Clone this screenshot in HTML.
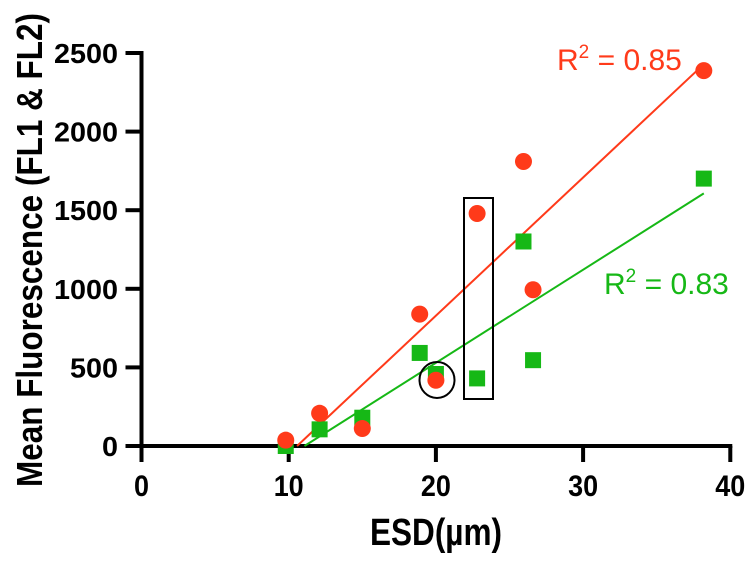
<!DOCTYPE html>
<html><head><meta charset="utf-8"><style>
body{margin:0;background:#fff;}
svg{display:block;font-family:"Liberation Sans",Arial,sans-serif;}
</style></head><body>
<svg id="chart" width="754" height="564" viewBox="0 0 754 564">
<g id="axes"></g>
<g id="fits"></g>
<g id="marks"></g>
<ellipse cx="437" cy="380" rx="17.5" ry="18" fill="none" stroke="#000" stroke-width="2"/>
<rect x="464" y="198" width="29" height="201" fill="none" stroke="#000" stroke-width="2"/>
<text x="557" y="70" font-size="30" fill="#ff3a1a">R<tspan font-size="19" dy="-12">2</tspan><tspan dy="12"> = 0.85</tspan></text>
<text x="604" y="294" font-size="30" fill="#16b816">R<tspan font-size="19" dy="-12">2</tspan><tspan dy="12"> = 0.83</tspan></text>
<text x="436" y="545" text-anchor="middle" font-size="38" font-weight="bold" textLength="132" lengthAdjust="spacingAndGlyphs">ESD(µm)</text>
<text transform="translate(42,250) rotate(-90)" text-anchor="middle" font-size="36" font-weight="bold" textLength="474" lengthAdjust="spacingAndGlyphs">Mean Fluorescence (FL1 &amp; FL2)</text>
</svg>
<script>
const esd = [9.8, 12.1, 15.0, 18.9, 20.0, 22.8, 25.95, 26.6, 38.2];
const fl1 = [37, 208, 111, 839, 418, 1479, 1810, 994, 2388];
const fl2 = [0, 106, 180, 592, 458, 430, 1301, 546, 1701];
const xTicks = [0, 10, 20, 30, 40];
const yTicks = [0, 500, 1000, 1500, 2000, 2500];
const NS = "http://www.w3.org/2000/svg";
const X = v => 141.5 + v * 14.72;
const Y = v => 446 - v * 0.1572;
function mk(tag, attrs, parent){const e=document.createElementNS(NS,tag);for(const k in attrs)e.setAttribute(k,attrs[k]);parent.appendChild(e);return e;}
const axes=document.getElementById('axes'), fits=document.getElementById('fits'), marks=document.getElementById('marks');
let l=mk('line',{x1:X(0)-2,x2:X(40)+2,y1:Y(0),y2:Y(0),stroke:'#000','stroke-width':4},axes);


l=mk('line',{x1:X(0),x2:X(0),y1:Y(0),y2:Y(2500)-2,stroke:'#000','stroke-width':4},axes);


xTicks.forEach(t=>{
  const tk=mk('line',{x1:X(t),x2:X(t),y1:Y(0),y2:Y(0)+16,stroke:'#000','stroke-width':4},axes);
  
  
  const s=String(t);
  const tx=mk('text',{x:X(t),y:496,'text-anchor':'middle','font-size':30,'font-weight':'bold',textLength:15*s.length,lengthAdjust:'spacingAndGlyphs'},axes);
  tx.textContent=s;
  
  
});
yTicks.forEach(t=>{
  const tk=mk('line',{x1:X(0)-16,x2:X(0),y1:Y(t),y2:Y(t),stroke:'#000','stroke-width':4},axes);
  
  
  const s=String(t);
  const tx=mk('text',{x:118,y:Y(t)+10,'text-anchor':'end','font-size':28,'font-weight':'bold',textLength:16*s.length,lengthAdjust:'spacingAndGlyphs'},axes);
  tx.textContent=s;
  
  
});
function fit(xs,ys,color,name){
  const n=xs.length;let sx=0,sy=0,sxx=0,sxy=0;
  for(let i=0;i<n;i++){sx+=xs[i];sy+=ys[i];sxx+=xs[i]*xs[i];sxy+=xs[i]*ys[i];}
  const b=(n*sxy-sx*sy)/(n*sxx-sx*sx), a=(sy-b*sx)/n;
  const x0=Math.max(Math.min(...xs),-a/b), x1=Math.max(...xs);
  const ln=mk('line',{x1:X(x0),y1:Y(a+b*x0),x2:X(x1),y2:Y(a+b*x1),stroke:color,'stroke-width':2},fits);
  
  
}
fit(esd,fl1,'#ff3a1a','fl1-fit-line');
fit(esd,fl2,'#16b816','fl2-fit-line');
esd.forEach((x,i)=>{
  const s=mk('rect',{x:X(x)-8,y:Y(fl2[i])-8,width:16,height:16,fill:'#16b816'},marks);
  
  
});
esd.forEach((x,i)=>{
  const c=mk('circle',{cx:X(x),cy:Y(fl1[i]),r:8.5,fill:'#ff3a1a'},marks);
  
  
});
</script>
</body></html>
